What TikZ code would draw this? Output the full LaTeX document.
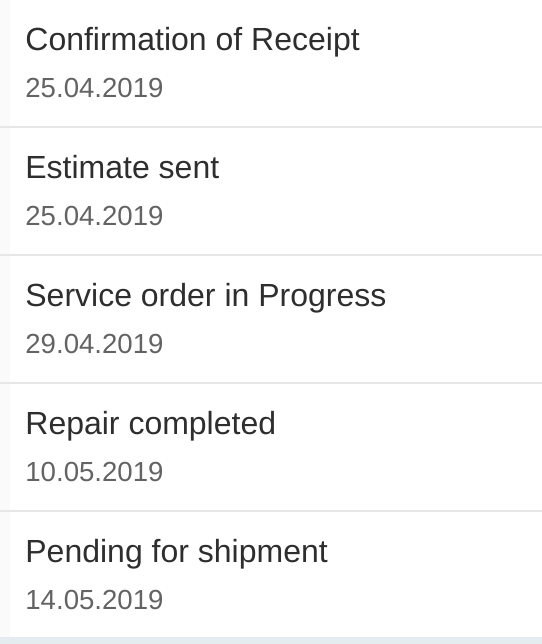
\documentclass[tikz,border=0pt]{standalone}
\usepackage{fontspec}
\setmainfont{Liberation Sans}
\usepackage{tikz}
\definecolor{titlegray}{HTML}{2E2E2E}
\definecolor{dategray}{HTML}{636363}
\definecolor{rulegray}{HTML}{E7E7E7}
\definecolor{edgegray}{HTML}{FAFAFA}
\definecolor{footblue}{HTML}{E4ECF0}
\tikzstyle{status} = [anchor=base west, inner sep=0pt, text=titlegray, font=\fontsize{16}{19}\selectfont]
\tikzstyle{datestamp} = [anchor=base west, inner sep=0pt, text=dategray, font=\fontsize{13.8}{16}\selectfont]
\tikzstyle{rule} = [rulegray, line width=1pt]

\begin{document}
\begin{tikzpicture}[x=0.5pt, y=-0.5pt]
\fill[white] (0,0) rectangle (542,644);
\useasboundingbox (0,0) rectangle (542,644);
\fill[edgegray] (0,0) rectangle (10,637);
\fill[footblue] (0,637) rectangle (542,644);

\node (receipt) [status] at (25,50) {Confirmation of Receipt};
\node (receiptdate) [datestamp] at (25,97) {25.04.2019};
\node (estimate) [status] at (25,178) {Estimate sent};
\node (estimatedate) [datestamp] at (25,225) {25.04.2019};
\node (progress) [status] at (25,306) {Service order in Progress};
\node (progressdate) [datestamp] at (25,353) {29.04.2019};
\node (repair) [status] at (25,434) {Repair completed};
\node (repairdate) [datestamp] at (25,481) {10.05.2019};
\node (shipment) [status] at (25,562) {Pending for shipment};
\node (shipmentdate) [datestamp] at (25,609) {14.05.2019};

% separators between the entries
\draw [rule] (0,127) -- (542,127);
\draw [rule] (0,255) -- (542,255);
\draw [rule] (0,383) -- (542,383);
\draw [rule] (0,511) -- (542,511);
\end{tikzpicture}
\end{document}
